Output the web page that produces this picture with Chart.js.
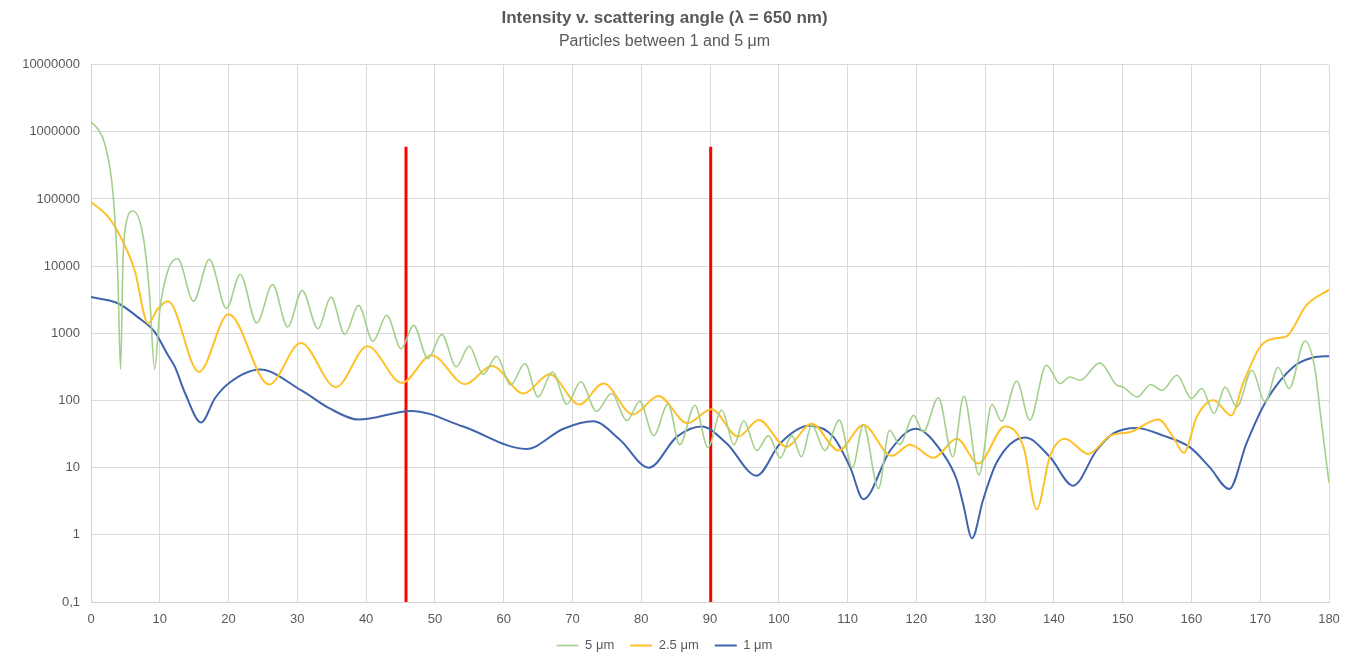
<!DOCTYPE html>
<html>
<head>
<meta charset="utf-8">
<script src="https://cdn.jsdelivr.net/npm/chart.js@4"></script>
<style>
    html, body { margin: 0; padding: 0; background: #ffffff; }
    #wrap { width: 1359px; height: 659px; }
</style>
</head>
<body>
<div id="wrap"><canvas id="grafico"></canvas></div>
<script>
// 5 um
const angulos5 = [0, 1, 2, 3.2, 3.9, 4.3, 4.65, 5.1, 6.1, 7.6, 8.5, 9.25, 10.0, 11.2, 12.6, 14.9, 17.2, 19.7, 21.7, 24.1,
    26.4, 28.6, 30.7, 33.0, 34.9, 36.9, 38.9, 41.0, 43.0, 45.1, 46.9, 49.0, 51.0, 53.1, 55.0, 57.0, 59.0, 61.0, 63.1, 65.0,
    67.1, 69.2, 71.2, 73.5, 75.7, 77.9, 79.8, 81.8, 83.9, 85.6, 87.8, 89.7, 91.7, 93.5, 94.9, 96.8, 98.5, 100.2, 101.9, 103.3,
    104.8, 106.7, 108.8, 110.7, 112.3, 114.5, 116.1, 117.6, 119.6, 121.0, 123.2, 125.3, 126.9, 129.1, 131.0, 132.4, 134.6, 136.5, 138.9, 140.9,
    142.3, 143.8, 146.7, 149.1, 150.1, 152.1, 154.1, 155.7, 157.9, 160.0, 161.5, 163.3, 164.9, 166.6, 168.8, 170.7, 172.6, 174.2, 176.5, 177.9,
    178.8, 180];
const intensidad5 = [1400000, 1100000, 660000, 120000, 7000, 290, 12000, 43000, 66000, 27000, 3900, 290, 2200, 8700, 13000, 3000, 12600, 2350, 7500, 1420,
    5300, 1240, 4350, 1170, 3450, 970, 2600, 760, 1860, 590, 1310, 420, 965, 316, 645, 245, 455, 170, 355, 113,
    266, 88, 190, 69, 127, 50, 97, 30, 88, 22, 85, 20, 72, 22, 50, 18, 30, 14, 30, 14.5,
    43, 18, 51, 10, 43, 4.9, 36, 22, 60, 34, 110, 14.5, 115, 7.8, 87, 49, 195, 51, 334, 178,
    224, 200, 363, 170, 158, 113, 173, 141, 237, 107, 151, 64, 158, 80, 282, 95, 309, 151, 769, 316,
    58, 5.9];

// 2.5 um
const angulos25 = [0, 2.5, 4.4, 6.35, 8.3, 9.7, 11.2, 15.7, 20.0, 25.9, 30.5, 35.6, 40.2, 45.2, 49.5, 54.4, 58.3, 62.9, 66.7, 71.0,
    74.5, 78.8, 82.5, 86.7, 90.2, 94.1, 97.1, 101.1, 104.8, 108.7, 112.3, 116.4, 119.1, 122.5, 125.9, 129.0, 132.9, 135.6, 137.5, 139.4,
    141.6, 145.0, 148.2, 151.1, 155.2, 157.3, 158.9, 160.8, 163.2, 165.8, 167.5, 170.0, 171.9, 173.8, 176.7, 180];
const intensidad25 = [90000, 54000, 26000, 8700, 1400, 2300, 3000, 266, 1920, 173, 718, 158, 640, 183, 470, 175, 327, 127, 245, 87,
    179, 62, 117, 46, 74, 29, 51, 20.5, 45, 18, 43, 15, 22, 14, 27, 11.5, 41, 20, 2.4, 14.5,
    27, 16, 30, 34, 52, 29, 16.6, 58, 101, 60, 178, 630, 830, 900, 2600, 4460];

// 1 um
const angulos1 = [0, 3.9, 6.8, 9.25, 11.2, 12.2, 13.7, 16.0, 18.0, 20.0, 24.6, 30.6, 34.7, 38.9, 46.6, 54.1, 63.3, 68.7, 73.0, 76.9,
    81.1, 85.2, 88.8, 92.4, 96.8, 100.2, 104.4, 107.9, 110.4, 112.3, 116.2, 119.9, 123.9, 125.9, 126.8, 128.1, 129.7, 131.7, 135.8, 139.4,
    142.8, 146.2, 148.6, 152.0, 155.9, 159.8, 162.7, 165.5, 168.0, 170.9, 174.8, 177.7, 180];
const intensidad1 = [3460, 2800, 1740, 1050, 470, 316, 127, 47, 107, 179, 288, 141, 76, 52, 70, 41, 19, 38, 49, 26,
    10, 29, 41, 23, 7.6, 23, 42, 29, 10, 3.4, 18, 38, 16, 6.5, 2.9, 0.89, 3.3, 12, 28, 14.5,
    5.4, 18, 32, 39, 30, 20, 10, 4.8, 23, 100, 316, 437, 457];

// lineas rojas verticales
const marcasAngulo = [45.8, 90.1];
const marcasAlto = [0.1, 600000];

const yTicks = [0.1, 1, 10, 100, 1000, 10000, 100000, 1000000, 10000000];
const yTickLabels = ['0,1', '1', '10', '100', '1000', '10000', '100000', '1000000', '10000000'];

const series = ['5 μm', '2.5 μm', '1 μm'];

const puntos = (xs, ys) => xs.map((x, i) => ({ x: x, y: ys[i] }));

const gris = '#595959';
const fuente = '"Liberation Sans", Arial, Helvetica, sans-serif';

const datasets = [
    { label: series[0], data: puntos(angulos5, intensidad5), borderColor: '#a5d08c', borderWidth: 1.6 },
    { label: series[1], data: puntos(angulos25, intensidad25), borderColor: '#ffc12a', borderWidth: 2 },
    { label: series[2], data: puntos(angulos1, intensidad1), borderColor: '#3f64ad', borderWidth: 2 }
].map(d => Object.assign(d, {
    pointRadius: 0,
    fill: false,
    cubicInterpolationMode: 'monotone',
    pointStyle: 'line'
}));

marcasAngulo.forEach(a => {
    datasets.push({
        label: 'marca',
        data: marcasAlto.map(h => ({ x: a, y: h })),
        borderColor: '#ff0000',
        borderWidth: 3,
        pointRadius: 0,
        fill: false
    });
});

Chart.defaults.font.family = fuente;
Chart.defaults.color = gris;

new Chart(document.getElementById('grafico').getContext('2d'), {
    type: 'line',
    data: { datasets: datasets },
    options: {
        responsive: true,
        maintainAspectRatio: false,
        animation: false,
        layout: { padding: { left: 0, right: 30, top: 0, bottom: -3 } },
        plugins: {
            tooltip: { enabled: false },
            title: {
                display: true,
                text: 'Intensity v. scattering angle (λ = 650 nm)',
                color: gris,
                font: { size: 17, weight: 'bold' },
                padding: { top: 8, bottom: 1 }
            },
            subtitle: {
                display: true,
                text: 'Particles between 1 and 5 μm',
                color: gris,
                font: { size: 16 },
                padding: { top: 3, bottom: 13 }
            },
            legend: {
                position: 'bottom',
                labels: {
                    usePointStyle: true,
                    pointStyle: 'line',
                    pointStyleWidth: 22,
                    color: gris,
                    font: { size: 13 },
                    padding: 16,
                    filter: item => item.datasetIndex < 3
                }
            }
        },
        scales: {
            x: {
                type: 'linear',
                min: 0,
                max: 180,
                afterFit: scale => { scale.height = 21; },
                grid: { color: '#d9d9d9', drawTicks: false },
                border: { color: '#d0d0d0' },
                ticks: { stepSize: 10, color: gris, font: { size: 13 }, padding: 10 }
            },
            y: {
                type: 'logarithmic',
                min: 0.1,
                max: 10000000,
                afterBuildTicks: scale => { scale.ticks = yTicks.map(v => ({ value: v })); },
                afterFit: scale => { scale.width = 91; },
                grid: { color: '#d9d9d9', drawTicks: false },
                border: { color: '#d0d0d0' },
                ticks: {
                    color: gris,
                    font: { size: 13 },
                    padding: 11,
                    callback: (v, i) => yTickLabels[i]
                }
            }
        }
    }
});
</script>
</body>
</html>
